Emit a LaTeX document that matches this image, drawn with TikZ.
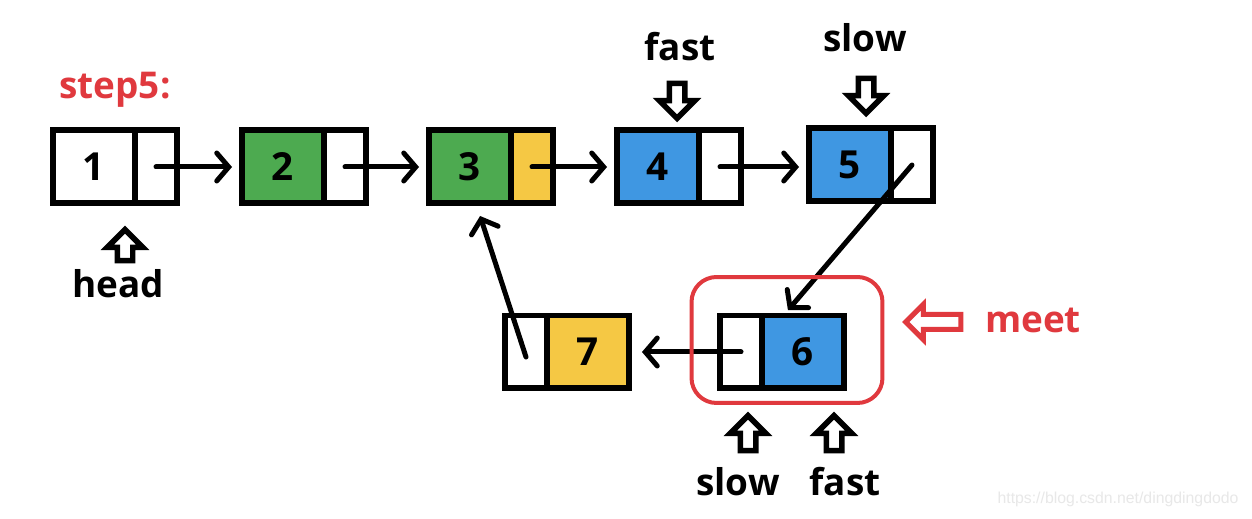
\documentclass[tikz,border=0pt]{standalone}
\usepackage{fontspec}
\setmainfont{Open Sans}
\newfontfamily\wmfont{Liberation Sans}
\usetikzlibrary{arrows.meta, shapes.arrows, positioning}
\definecolor{mygreen}{HTML}{4DAA50}
\definecolor{myblue}{HTML}{3F97E2}
\definecolor{myyellow}{HTML}{F5C844}
\definecolor{myred}{HTML}{E0393E}
\tikzset{
	datanode/.style={
			rectangle,
			draw=black,
			line width=0.12cm,
			fill=white,
			minimum width=1.64cm,
			minimum height=1.46cm,
			inner sep=0pt,
			font=\bfseries\fontsize{22}{26}\selectfont
		},
	ptrnode/.style={
			datanode,
			minimum width=0.84cm
		},
	linkarrow/.style={
			line width=0.1cm,
			line cap=round,
			-{Straight Barb[length=0.24cm, width=0.56cm, line cap=round]}
		},
	blockarrow/.style={
			single arrow,
			draw=black,
			line width=0.11cm,
			fill=white,
			minimum height=0.7cm,
			single arrow head extend=0.2cm,
			inner sep=0.1cm
		},
	labelnode/.style={
			inner sep=0pt,
			font=\bfseries\fontsize{21}{24}\selectfont
		},
	rednode/.style={
			labelnode,
			text=myred
		}
}
\begin{document}
\begin{tikzpicture}[x=0.02cm, y=-0.02cm]
\fill[white] (0,0) rectangle (1252,519);
\useasboundingbox (0,0) rectangle (1252,519);

    \node[rednode] (step) at (115,90) {step5:};

    % the list
    \node[datanode] (d1) at (94,167) {1};
    \node[ptrnode] (p1) at (156,167) {};
    \node[datanode, fill=mygreen] (d2) at (283,167) {2};
    \node[ptrnode] (p2) at (345,167) {};
    \node[datanode, fill=mygreen] (d3) at (470,167) {3};
    \node[ptrnode, fill=myyellow] (p3) at (532,167) {};
    \node[datanode, fill=myblue] (d4) at (658,167) {4};
    \node[ptrnode] (p4) at (720,167) {};
    \node[datanode, fill=myblue] (d5) at (850,165) {5};
    \node[ptrnode] (p5) at (912,165) {};
    \node[ptrnode] (p6) at (741,352) {};
    \node[datanode, fill=myblue] (d6) at (803,352) {6};
    \node[ptrnode] (p7) at (526,352) {};
    \node[datanode, fill=myyellow] (d7) at (588,352) {7};

    \draw[linkarrow, shorten >=0.14cm] (p1.center) -- (d2.west);
    \draw[linkarrow, shorten >=0.14cm] (p2.center) -- (d3.west);
    \draw[linkarrow, shorten >=0.14cm] (p3.center) -- (d4.west);
    \draw[linkarrow, shorten >=0.14cm] (p4.center) -- (p4.center -| d5.west);
    \draw[linkarrow, shorten >=0.06cm] (p5.center) -- ([xshift=-0.34cm]d6.north);
    \draw[linkarrow, shorten >=0.2cm] (p6.center) -- (d7.east);
    \draw[linkarrow, shorten >=0.2cm] ([yshift=-0.1cm]p7.center) -- ([xshift=0.14cm]d3.south);

    % meeting point
    \node[draw=myred, line width=0.08cm, rounded corners=0.5cm, minimum width=3.82cm,
          minimum height=2.52cm] (meetbox) at (787,340) {};
    \node[blockarrow, draw=myred, line width=0.1cm, minimum height=1.1cm, shape border rotate=180] (meetarrow) at (937,322) {};
    \node[rednode] (meet) at (1033,320) {meet};

    % pointers
    \node[blockarrow, minimum height=0.62cm, shape border rotate=90] (headarrow) at (125,249) {};
    \node[labelnode] (head) at (118,284) {head};
    \node[labelnode] (fast1) at (680,47) {fast};
    \node[blockarrow, shape border rotate=270] (fastarrow1) at (677,97) {};
    \node[labelnode] (slow1) at (865,38) {slow};
    \node[blockarrow, shape border rotate=270] (slowarrow1) at (866,92) {};
    \node[blockarrow, shape border rotate=90] (slowarrow2) at (748,437) {};
    \node[labelnode] (slow2) at (738,482) {slow};
    \node[blockarrow, shape border rotate=90] (fastarrow2) at (834,437) {};
    \node[labelnode] (fast2) at (845,482) {fast};

    \node[text=gray!18, font=\wmfont\fontsize{9}{11}\selectfont] (mark) at (1118,499) {https://blog.csdn.net/dingdingdodo};

\end{tikzpicture}
\end{document}
